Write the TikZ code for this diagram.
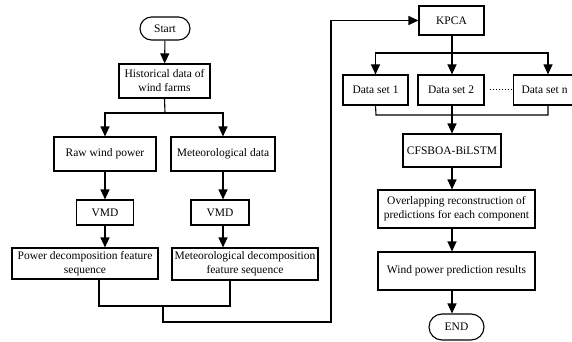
\documentclass[tikz,border=0pt]{standalone}
\usepackage{fontspec}
\setmainfont{Liberation Serif}
\usetikzlibrary{arrows.meta,shapes.misc,calc}
\begin{document}
\begin{tikzpicture}[x=1pt,y=-1pt,
  every node/.style={font=\fontsize{11.5}{14}\selectfont},
  box/.style={draw,line width=1.1pt,inner sep=1pt,align=center},
  term/.style={draw,line width=1.1pt,rounded rectangle,inner sep=1pt},
  conn/.style={line width=1.1pt},
  arr/.style={line width=1.1pt,-{Triangle[length=10pt,width=9pt]}}]
\clip (0,0) rectangle (572,342);
\useasboundingbox (0,0) rectangle (572,342);
\node[term,minimum width=52pt,minimum height=23pt] (start) at (165,28.5) {Start};
\node[box,minimum width=91pt,minimum height=34pt] (hist) at (164.5,81) {Historical data of\\wind farms};
\node[box,minimum width=102pt,minimum height=34pt] (raw) at (105,154) {Raw wind power};
\node[box,minimum width=104pt,minimum height=34pt] (met) at (223,154) {Meteorological data};
\node[box,minimum width=57pt,minimum height=25pt] (vmd1) at (105,212.5) {VMD};
\node[box,minimum width=58pt,minimum height=25pt] (vmd2) at (220,212.5) {VMD};
\node[box,minimum width=146pt,minimum height=31pt] (pd) at (85,263.5) {Power decomposition feature\\sequence};
\node[box,minimum width=146pt,minimum height=32pt] (md) at (245,264) {Meteorological decomposition\\feature sequence};
\node[box,minimum width=65pt,minimum height=29pt] (kpca) at (451.5,20.5) {KPCA};
\node[box,minimum width=65pt,minimum height=30pt] (ds1) at (375.5,90) {Data set 1};
\node[box,minimum width=66pt,minimum height=30pt] (ds2) at (451,90) {Data set 2};
\node[box,minimum width=70pt,minimum height=30pt,anchor=west] (dsn) at (513,90) {\hspace*{-8pt}Data set n};
\node[box,minimum width=98pt,minimum height=33pt] (cfs) at (452,150.5) {CFSBOA-BiLSTM};
\node[box,minimum width=157pt,minimum height=38pt] (ov) at (456.5,209) {Overlapping reconstruction of\\predictions for each component};
\node[box,minimum width=157pt,minimum height=38pt] (wp) at (456.5,271) {Wind power prediction results};
\node[term,minimum width=57pt,minimum height=26pt] (end) at (456.5,327) {END};
% coordinates
\coordinate (h1) at (165,113);
\coordinate (j1) at (99,306);
\coordinate (j2) at (230,306);
\coordinate (jm) at (163,306);
\coordinate (jb) at (163,322);
\coordinate (jr) at (331,322);
\coordinate (jt) at (331,20.5);
\coordinate (k1) at (452,53);
\coordinate (d1) at (376,115);
\coordinate (dn) at (548,115);
% left column
\draw[arr] (start) -- (hist);
\draw[conn] (hist.south) -- (h1);
\draw[arr] (h1) -| (raw.north);
\draw[arr] (h1) -| (met.north);
\draw[arr] (raw.south) -- (raw.south |- vmd1.north);
\draw[arr] (met.south) -- (met.south |- vmd2.north);
\draw[arr] (vmd1.south) -- (vmd1.south |- pd.north);
\draw[arr] (met.south |- vmd2.south) -- (met.south |- md.north);
\draw[conn] (j1 |- pd.south) -- (j1) -- (j2) -- (j2 |- md.south);
\draw[conn] (jm) -- (jb) -- (jr) -- (jt);
\draw[arr] (jt) -- (kpca.west);
% right column
\draw[conn] (kpca.south -| k1) -- (k1);
\draw[arr] (k1) -| (ds1.north);
\draw[arr] (k1) -- (k1 |- ds2.north);
\draw[arr] (k1) -| (dn |- dsn.north);
\draw[conn] (ds1.south) -- (d1) -- (dn) -- (dn |- dsn.south);
\draw[arr] (k1 |- ds2.south) -- (k1 |- cfs.north);
\draw[line width=1pt,dotted] (ds2.east) ++(5,0) coordinate (dt1) -- (dsn.west) ++(-3,0) coordinate (dt2);
\draw[arr] (k1 |- cfs.south) -- (k1 |- ov.north);
\draw[arr] (k1 |- ov.south) -- (k1 |- wp.north);
\draw[arr] (k1 |- wp.south) -- (k1 |- end.north);
\end{tikzpicture}
\end{document}
